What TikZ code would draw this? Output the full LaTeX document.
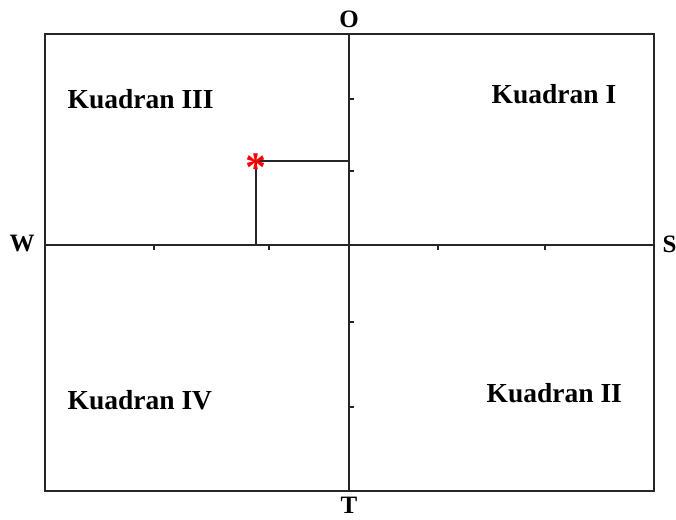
\documentclass[tikz,border=0pt]{standalone}
\usepackage{fontspec}
\setmainfont{Liberation Serif}
\usetikzlibrary{positioning}

\begin{document}
\begin{tikzpicture}[x=1pt, y=-1pt, line width=1.3pt, color=black!85,
  quad/.style={font=\bfseries\fontsize{27.5}{27.5}\selectfont, inner sep=0pt, anchor=west, text=black},
  dir/.style={font=\bfseries\fontsize{25}{25}\selectfont, inner sep=0pt, text=black},
  tick/.style={line width=1.6pt}]
  \useasboundingbox (0,0) rectangle (676,519);
  \coordinate (nw) at (45,34); \coordinate (se) at (654,491);
  \coordinate (top) at (349,34); \coordinate (bottom) at (349,491);
  \coordinate (left) at (45,245); \coordinate (right) at (654,245);
  \coordinate (px) at (256,245); \coordinate (py) at (349,161);

  \node[dir] (O) at (349,19) {O}; \node[dir] (T) at (349,505) {T};
  \node[dir] (W) at (22,244) {W}; \node[dir, anchor=west] (S) at (662,244) {S};

  \node[quad] (q3) at (67,99) {Kuadran III}; \node[quad] (q1) at (491,94)
  {Kuadran I}; \node[quad] (q4) at (67,400) {Kuadran IV}; \node[quad] (q2)
  at (486,393) {Kuadran II};

  \draw (nw) rectangle (se); \draw (top) -- (bottom); \draw (left) --
  (right); \draw (px) |- (py);
  \foreach \x in {154,269,438,545} \draw[tick] (\x,244) -- (\x,250);
  \foreach \y in {99,171,322,407} \draw[tick] (348,\y) -- (354,\y);

  \node[inner sep=0pt, text=red, font=\bfseries\fontsize{42}{42}\selectfont]
  (star) at (256,168) {*};
\end{tikzpicture}
\end{document}
